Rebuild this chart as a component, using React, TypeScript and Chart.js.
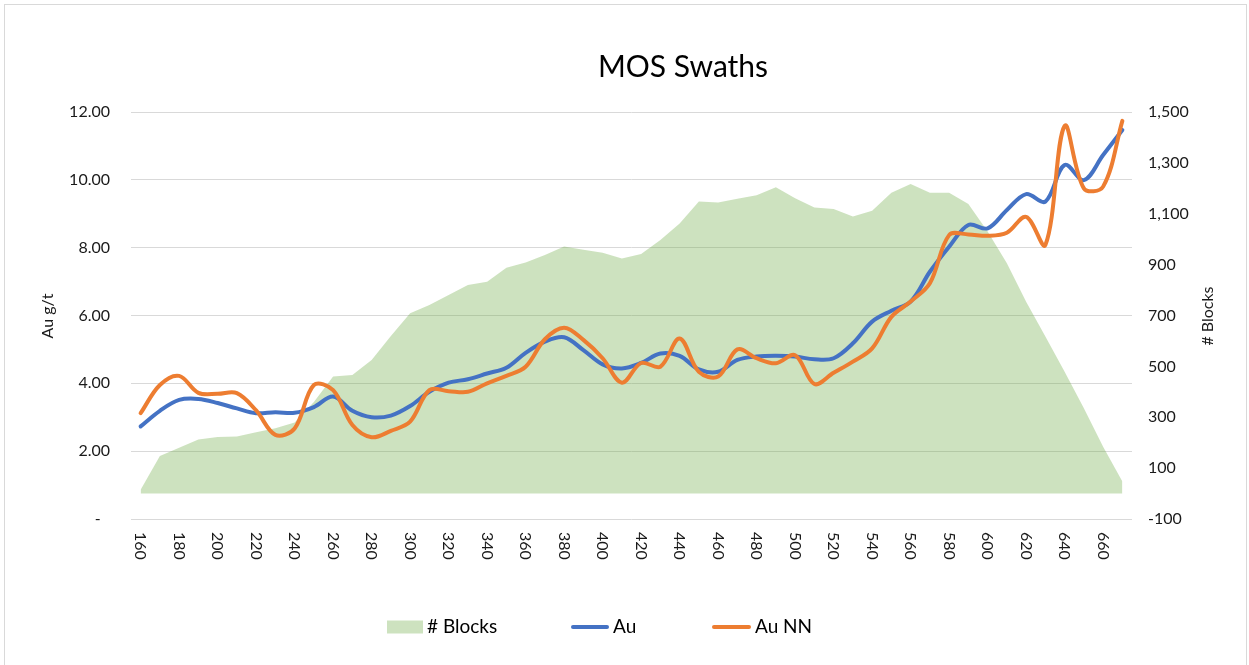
import React, { useEffect, useRef } from 'react';
import { Chart, registerables } from 'chart.js';

Chart.register(...registerables);

const categories = [
  '160', '170', '180', '190', '200', '210', '220', '230', '240', '250',
  '260', '270', '280', '290', '300', '310', '320', '330', '340', '350',
  '360', '370', '380', '390', '400', '410', '420', '430', '440', '450',
  '460', '470', '480', '490', '500', '510', '520', '530', '540', '550',
  '560', '570', '580', '590', '600', '610', '620', '630', '640', '650',
  '660', '670',
];

const xTickLabels = [
  '160', '180', '200', '220', '240', '260', '280', '300', '320', '340',
  '360', '380', '400', '420', '440', '460', '480', '500', '520', '540',
  '560', '580', '600', '620', '640', '660',
];

const blocks = [
  15, 148, 180, 213, 222, 224, 241, 257, 279, 360,
  460, 466, 525, 619, 709, 741, 781, 820, 833, 888,
  908, 938, 971, 958, 947, 924, 942, 997, 1062, 1148,
  1144, 1159, 1173, 1204, 1161, 1125, 1119, 1089, 1112, 1183,
  1217, 1183, 1183, 1138, 1030, 905, 754, 617, 479, 335,
  184, 47,
];

const au = [
  2.73, 3.19, 3.51, 3.54, 3.42, 3.26, 3.12, 3.15, 3.13, 3.3,
  3.61, 3.19, 3.0, 3.05, 3.33, 3.75, 4.02, 4.12, 4.29, 4.46,
  4.9, 5.23, 5.36, 4.98, 4.56, 4.44, 4.6, 4.88, 4.81, 4.41,
  4.34, 4.69, 4.79, 4.81, 4.79, 4.71, 4.74, 5.18, 5.82, 6.14,
  6.41, 7.29, 8.03, 8.67, 8.57, 9.11, 9.58, 9.36, 10.44, 9.99,
  10.73, 11.47,
];

const auNN = [
  3.12, 3.95, 4.22, 3.72, 3.69, 3.71, 3.2, 2.48, 2.67, 3.95,
  3.8, 2.77, 2.41, 2.6, 2.87, 3.8, 3.77, 3.75, 4.0, 4.22,
  4.49, 5.3, 5.64, 5.28, 4.74, 4.02, 4.6, 4.49, 5.32, 4.34,
  4.2, 5.0, 4.74, 4.59, 4.83, 3.98, 4.31, 4.64, 5.03, 5.96,
  6.41, 6.95, 8.37, 8.39, 8.35, 8.44, 8.91, 8.08, 11.59, 9.75,
  9.8, 11.74,
];

const FONT = 'Lato, "Open Sans", sans-serif';
const TEXT = '#1a1a1a';
const GREEN = 'rgba(112,173,71,0.35)';
const BLUE = '#4472C4';
const ORANGE = '#ED7D31';

const decorPlugin = {
  id: 'decor',
  beforeDraw(chart: any) {
    const ctx = chart.ctx;
    ctx.save();
    ctx.fillStyle = '#ffffff';
    ctx.fillRect(0, 0, chart.width, chart.height);
    ctx.strokeStyle = '#D9D9D9';
    ctx.lineWidth = 1;
    ctx.strokeRect(4.5, 4.5, 1242, 720);
    ctx.restore();
  },
  afterDraw(chart: any) {
    const ctx = chart.ctx;
    const xs = chart.scales.x;
    ctx.save();
    // title
    ctx.fillStyle = '#000';
    ctx.font = `30px ${FONT}`;
    ctx.textAlign = 'center';
    ctx.textBaseline = 'middle';
    ctx.fillText('MOS Swaths', 683, 67);

    // x labels, rotated clockwise
    ctx.font = `16px ${FONT}`;
    ctx.fillStyle = TEXT;
    categories.forEach((c, i) => {
      if (!xTickLabels.includes(c)) return;
      const x = xs.getPixelForValue(i);
      ctx.save();
      ctx.translate(x, 532);
      ctx.rotate(Math.PI / 2);
      ctx.textAlign = 'left';
      ctx.textBaseline = 'middle';
      ctx.fillText(c, 0, 0);
      ctx.restore();
    });

    // axis titles
    ctx.font = `16px ${FONT}`;
    const drawV = (t: string, x: number, y: number) => {
      ctx.save();
      ctx.translate(x, y);
      ctx.rotate(-Math.PI / 2);
      ctx.textAlign = 'center';
      ctx.textBaseline = 'middle';
      ctx.fillText(t, 0, 0);
      ctx.restore();
    };
    drawV('Au g/t', 48, 316);
    drawV('# Blocks', 1208, 316);

    // legend
    const ly = 627;
    const legendX = [387, 571, 712];
    const markerW = [36, 38, 39];
    ctx.font = `19px ${FONT}`;
    chart.data.datasets.forEach((ds: any, i: number) => {
      const x0 = legendX[i];
      if (i === 0) {
        ctx.fillStyle = ds.backgroundColor;
        ctx.fillRect(x0, ly - 6.5, markerW[i], 13);
      } else {
        ctx.strokeStyle = ds.borderColor;
        ctx.lineWidth = 4;
        ctx.lineCap = 'round';
        ctx.beginPath();
        ctx.moveTo(x0 + 2, ly);
        ctx.lineTo(x0 + markerW[i] - 2, ly);
        ctx.stroke();
      }
      ctx.fillStyle = '#000';
      ctx.textAlign = 'left';
      ctx.textBaseline = 'middle';
      ctx.fillText(ds.label, x0 + markerW[i] + 4, ly);
    });
    ctx.restore();
  },
};

export default function App() {
  const ref = useRef<HTMLCanvasElement | null>(null);

  useEffect(() => {
    if (!ref.current) return;
    const chart = new Chart(ref.current, {
      type: 'line',
      data: {
        labels: categories,
        datasets: [
          {
            label: '# Blocks',
            data: blocks,
            yAxisID: 'y1',
            fill: 'origin',
            backgroundColor: GREEN,
            borderColor: 'rgba(0,0,0,0)',
            borderWidth: 0,
            pointRadius: 0,
            tension: 0,
            order: 3,
          },
          {
            label: 'Au',
            data: au,
            yAxisID: 'y',
            fill: false,
            borderColor: BLUE,
            backgroundColor: BLUE,
            borderWidth: 4,
            pointRadius: 0,
            tension: 0.35,
            borderCapStyle: 'round',
            borderJoinStyle: 'round',
            order: 2,
          },
          {
            label: 'Au NN',
            data: auNN,
            yAxisID: 'y',
            fill: false,
            borderColor: ORANGE,
            backgroundColor: ORANGE,
            borderWidth: 4,
            pointRadius: 0,
            tension: 0.35,
            borderCapStyle: 'round',
            borderJoinStyle: 'round',
            order: 1,
          },
        ],
      },
      options: {
        responsive: false,
        maintainAspectRatio: false,
        animation: false,
        layout: { padding: { top: 112, bottom: 146, left: 0, right: 0 } },
        plugins: {
          legend: { display: false },
          title: { display: false },
          tooltip: { enabled: false },
        },
        scales: {
          x: {
            type: 'category',
            offset: true,
            grid: { display: false, drawTicks: false },
            border: { display: false },
            ticks: { display: false },
            afterFit: (s: any) => { s.height = 0; },
          },
          y: {
            position: 'left',
            min: 0,
            max: 12,
            ticks: {
              stepSize: 2,
              padding: 21,
              color: TEXT,
              font: { family: FONT, size: 16 },
              callback: (v: any) => (Number(v) === 0 ? '-\u2007' : Number(v).toFixed(2)),
            },
            grid: { color: '#D9D9D9', lineWidth: 1, drawTicks: false },
            border: { display: false },
            afterFit: (s: any) => { s.width = 131; },
          },
          y1: {
            position: 'right',
            min: -100,
            max: 1500,
            ticks: {
              stepSize: 200,
              padding: 16,
              color: TEXT,
              font: { family: FONT, size: 16 },
              callback: (v: any) => Number(v).toLocaleString('en-US'),
            },
            grid: { display: false, drawTicks: false },
            border: { display: false },
            afterFit: (s: any) => { s.width = 117; },
          },
        },
      },
      plugins: [decorPlugin],
    } as any);
    return () => chart.destroy();
  }, []);

  return (
    <div style={{ position: 'fixed', left: 0, top: 0, width: 1249, height: 665, background: '#fff' }}>
      <canvas ref={ref} width={1249} height={665} style={{ display: 'block' }} />
    </div>
  );
}
